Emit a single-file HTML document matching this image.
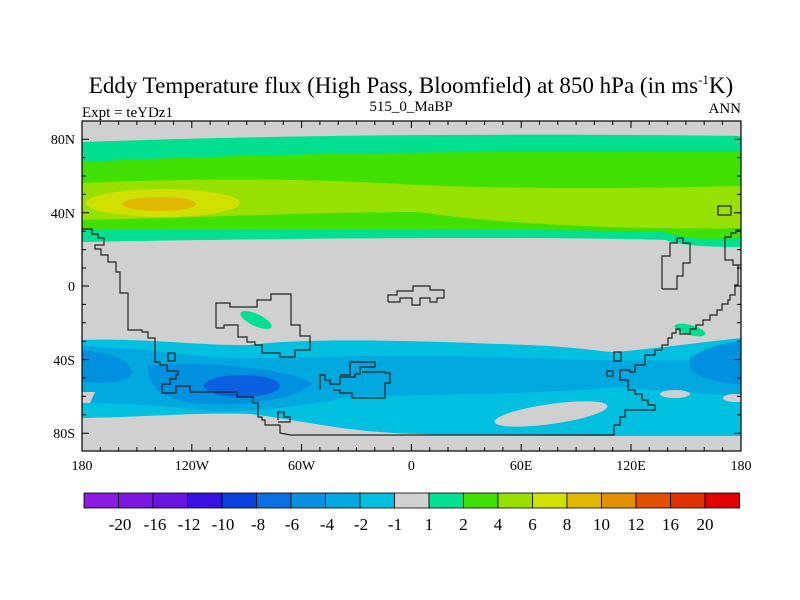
<!DOCTYPE html>
<html><head><meta charset="utf-8"><style>
html,body{margin:0;padding:0;background:#fff;}
svg{display:block;font-family:"Liberation Serif",serif;}
</style></head><body>
<svg width="800" height="600" viewBox="0 0 800 600" xmlns="http://www.w3.org/2000/svg">
<defs><clipPath id="c"><rect x="82" y="121" width="659" height="330"/></clipPath></defs>
<g clip-path="url(#c)">
<rect x="82" y="121" width="659" height="330" fill="#d0d0d0"/>
<path d="M82,142 C200,138 400,132 741,136 L741,247 C700,247 680,245 665,240 C600,238 400,236 82,242 Z" fill="#00e090"/>
<path d="M82,162 C200,156 400,150 741,152 L741,238 C700,240 680,238 665,232 C600,230 400,228 82,230 Z" fill="#40e000"/>
<path d="M82,183 C200,178 300,178 420,185 C550,190 650,188 741,186 L741,228 C650,230 500,225 420,212 C300,212 200,218 82,220 Z" fill="#98e000"/>
<ellipse cx="163" cy="203" rx="77" ry="14" fill="#d0e000"/>
<ellipse cx="159" cy="204" rx="37" ry="7" fill="#e0b800"/>
<path d="M82,340 C150,338 200,346 250,345 C300,338 400,340 500,344 C580,346 600,352 615,352 C640,350 680,345 741,338 L741,436 C600,436 450,436 420,434 C350,433 300,420 250,414 C200,412 150,417 82,418 Z" fill="#00c0e0"/>
<path d="M82,346 C120,348 150,350 200,356 C260,362 350,354 450,356 C550,358 600,362 700,360 L741,350 L741,397 C700,392 650,390 620,387 C540,394 450,394 350,397 C300,406 250,414 200,410 C150,404 120,404 82,402 Z" fill="#00a8e0"/>
<path d="M82,350 C110,352 130,360 132,372 C130,382 110,384 82,382 Z" fill="#0090e0"/>
<path d="M148,366 C200,360 285,368 312,383 C302,397 250,407 200,404 C160,400 148,386 148,366 Z" fill="#0090e0"/>
<path d="M690,358 C710,345 730,342 741,342 L741,385 C720,382 695,378 690,368 Z" fill="#0090e0"/>
<ellipse cx="242" cy="386" rx="38" ry="11" fill="#0a60e0"/>
<ellipse cx="551" cy="414" rx="57" ry="10" transform="rotate(-8 551 414)" fill="#d0d0d0"/>
<ellipse cx="675" cy="394" rx="15" ry="4" fill="#d0d0d0"/>
<ellipse cx="735" cy="398" rx="12" ry="4" fill="#d0d0d0"/>
<path d="M82,392 L95,392 L90,403 L82,403 Z" fill="#d0d0d0"/>
<ellipse cx="256" cy="320" rx="17" ry="6" transform="rotate(25 256 320)" fill="#00e090"/>
<ellipse cx="690" cy="330" rx="16" ry="5" transform="rotate(15 690 330)" fill="#00e090"/>
<g fill="none" stroke="#222" stroke-width="1.2">
<polyline points="82,229 92,229 92,234 98,234 98,238 104,238 104,245 100,245 95,245 95,249 101,249 101,255 108,255 108,262 116,262 116,272 120,272 120,293 128,293 128,330 142,330 142,332 148,332 148,338 155,338 155,362 160,362 160,365 167,365 167,371 178,371 178,375 176,375 176,379 170,379 170,384 162,384 162,393 176,393 176,386 190,386 190,392 233,392 237,392 237,397 253,397 253,403 258,403 258,417 262,417 262,420 265,420 265,425 280,425 280,433 290,435 410,435 600,435 614,435 614,425 620,425 620,417 625,417 625,410 655,410 655,405 648,405 648,400 642,400 642,394 635,394 635,390 628,390 628,380 620,380 620,370 630,370 630,372 635,372 635,365 645,365 645,355 655,355 655,350 662,350 662,345 668,345 668,338 672,338 672,333 676,333 676,329 680,329 680,334 690,334 690,329 696,329 696,325 703,325 703,320 710,320 710,315 717,315 717,310 722,310 722,304 728,304 728,300 730,300 730,295 735,295 735,285 738,285 738,265 741,265"/>
<polyline points="741,230 736,230 736,233 731,233 731,237 725,237 725,260 733,260 733,265 738,265"/>
<rect x="718" y="206" width="13" height="9"/>
<polyline points="662,289 662,256 670,256 670,243 677,243 677,238 683,238 683,243 690,243 690,263 683,263 683,276 677,276 677,289 662,289"/>
<polyline points="216,328 216,303 230,303 230,307 257,307 257,300 271,300 271,294 280,294 280,294 291,294 291,325 300,325 300,336 310,336 310,350 295,350 295,357 280,357 280,353 262,353 262,345 255,345 255,342 247,342 247,337 238,337 238,325 224,325 224,328 216,328"/>
<polyline points="388,302 388,295 397,295 397,291 413,291 413,286 430,286 430,290 444,290 444,298 437,298 437,302 430,302 430,298 420,298 420,305 412,305 412,298 400,298 400,302 388,302"/>
<rect x="168" y="353" width="7" height="8"/>
<polyline points="320,390 320,375 325,375 325,380 330,380 330,384 340,384 340,377 355,377 355,374 360,374 360,367 375,367 375,362 350,362 350,375 340,375"/>
<polyline points="333,390 340,390 340,393 352,393 352,398 385,398 385,383 390,383 390,373 385,373 385,372 362,372"/>
<polyline points="278,420 278,412 284,412 284,417 290,417 290,422 278,422"/>
<rect x="614" y="352" width="7" height="9"/>
<rect x="607" y="371" width="6" height="5"/>
</g>
</g>
<rect x="82" y="121" width="659" height="330" fill="none" stroke="#000" stroke-width="1.2"/>
<g stroke="#000" stroke-width="1">
<path d="M100.3,121v4M118.6,121v4M136.9,121v4M155.2,121v4M173.5,121v4M210.1,121v4M228.4,121v4M246.7,121v4M265,121v4M283.3,121v4M319.9,121v4M338.2,121v4M356.5,121v4M374.8,121v4M393.1,121v4M429.7,121v4M448,121v4M466.3,121v4M484.6,121v4M502.9,121v4M539.5,121v4M557.8,121v4M576.1,121v4M594.4,121v4M612.7,121v4M649.3,121v4M667.6,121v4M685.9,121v4M704.2,121v4M722.5,121v4"/>
<path d="M191.8,121v7M301.6,121v7M411.4,121v7M521.2,121v7M631,121v7"/>
<path d="M100.3,451v-4M118.6,451v-4M136.9,451v-4M155.2,451v-4M173.5,451v-4M210.1,451v-4M228.4,451v-4M246.7,451v-4M265,451v-4M283.3,451v-4M319.9,451v-4M338.2,451v-4M356.5,451v-4M374.8,451v-4M393.1,451v-4M429.7,451v-4M448,451v-4M466.3,451v-4M484.6,451v-4M502.9,451v-4M539.5,451v-4M557.8,451v-4M576.1,451v-4M594.4,451v-4M612.7,451v-4M649.3,451v-4M667.6,451v-4M685.9,451v-4M704.2,451v-4M722.5,451v-4"/>
<path d="M191.8,451v-7M301.6,451v-7M411.4,451v-7M521.2,451v-7M631,451v-7"/>
<path d="M82,139.2h7M82,212.8h7M82,286h7M82,359.6h7M82,433.2h7M741,139.2h-7M741,212.8h-7M741,286h-7M741,359.6h-7M741,433.2h-7"/>
<path d="M82,157.6h4M82,176h4M82,194.4h4M82,231.2h4M82,249.6h4M82,268h4M82,304.4h4M82,322.8h4M82,341.2h4M82,378h4M82,396.4h4M82,414.8h4M741,157.6h-4M741,176h-4M741,194.4h-4M741,231.2h-4M741,249.6h-4M741,268h-4M741,304.4h-4M741,322.8h-4M741,341.2h-4M741,378h-4M741,396.4h-4M741,414.8h-4"/>
</g>
<g font-size="14" fill="#000">
<g text-anchor="end"><text x="75" y="144">80N</text><text x="75" y="218">40N</text><text x="75" y="291">0</text><text x="75" y="365">40S</text><text x="75" y="438">80S</text></g>
<g text-anchor="middle"><text x="82" y="470">180</text><text x="191.8" y="470">120W</text><text x="301.6" y="470">60W</text><text x="411.4" y="470">0</text><text x="521.2" y="470">60E</text><text x="631" y="470">120E</text><text x="741" y="470">180</text></g>
</g>
<text x="411" y="93" font-size="23" text-anchor="middle">Eddy Temperature flux (High Pass, Bloomfield) at 850 hPa (in ms<tspan font-size="13" dy="-9">-1</tspan><tspan dy="9">K)</tspan></text>
<text x="82" y="117" font-size="15">Expt = teYDz1</text>
<text x="411" y="111" font-size="15" text-anchor="middle">515_0_MaBP</text>
<text x="741" y="113" font-size="15" text-anchor="end">ANN</text>
<g stroke="#000" stroke-width="0.8">
<rect x="84" y="493" width="34.5" height="15" fill="#8a1ae0"/>
<rect x="118.5" y="493" width="34.5" height="15" fill="#7a18e0"/>
<rect x="153" y="493" width="34.5" height="15" fill="#6a14e0"/>
<rect x="187.5" y="493" width="34.5" height="15" fill="#3a10e0"/>
<rect x="222" y="493" width="34.5" height="15" fill="#0a40e0"/>
<rect x="256.5" y="493" width="34.5" height="15" fill="#0a70e0"/>
<rect x="291" y="493" width="34.5" height="15" fill="#0a90e0"/>
<rect x="325.5" y="493" width="34.5" height="15" fill="#00a8e0"/>
<rect x="360" y="493" width="34.5" height="15" fill="#00c0e0"/>
<rect x="394.5" y="493" width="34.5" height="15" fill="#d0d0d0"/>
<rect x="429" y="493" width="34.5" height="15" fill="#00e090"/>
<rect x="463.5" y="493" width="34.5" height="15" fill="#40e000"/>
<rect x="498" y="493" width="34.5" height="15" fill="#98e000"/>
<rect x="532.5" y="493" width="34.5" height="15" fill="#d0e000"/>
<rect x="567" y="493" width="34.5" height="15" fill="#e0b800"/>
<rect x="601.5" y="493" width="34.5" height="15" fill="#e09000"/>
<rect x="636" y="493" width="34.5" height="15" fill="#e05000"/>
<rect x="670.5" y="493" width="34.5" height="15" fill="#e03000"/>
<rect x="705" y="493" width="34.5" height="15" fill="#e00000"/>
</g>
<g font-size="17" text-anchor="middle">
<text x="120" y="530">-20</text><text x="155" y="530">-16</text><text x="189" y="530">-12</text><text x="223" y="530">-10</text><text x="258" y="530">-8</text><text x="292" y="530">-6</text><text x="327" y="530">-4</text><text x="361" y="530">-2</text><text x="395" y="530">-1</text><text x="429" y="530">1</text><text x="463.5" y="530">2</text><text x="498" y="530">4</text><text x="532.5" y="530">6</text><text x="567" y="530">8</text><text x="601.5" y="530">10</text><text x="636" y="530">12</text><text x="670.5" y="530">16</text><text x="705" y="530">20</text>
</g>
</svg>
</body></html>
